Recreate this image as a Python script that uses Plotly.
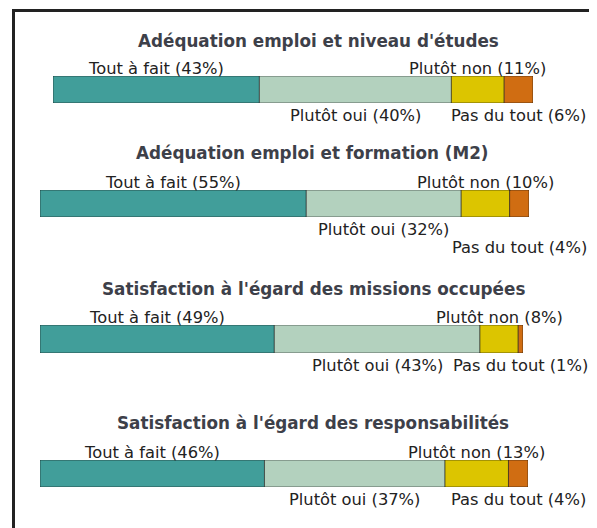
import plotly.graph_objects as go

# ---- data ----
titles = [
    "Adéquation emploi et niveau d'études",
    "Adéquation emploi et formation (M2)",
    "Satisfaction à l'égard des missions occupées",
    "Satisfaction à l'égard des responsabilités",
]
categories = ["Tout à fait", "Plutôt oui", "Plutôt non", "Pas du tout"]
tout_a_fait = [43, 55, 49, 46]
plutot_oui = [40, 32, 43, 37]
plutot_non = [11, 10, 8, 13]
pas_du_tout = [6, 4, 1, 4]
colors = ["#419e9a", "#b3d1be", "#dcc500", "#d06d12"]

series = [tout_a_fait, plutot_oui, plutot_non, pas_du_tout]

# ---- layout (pixels, page coordinates; page body has an 8px margin) ----
W, H = 597, 528
OFF = 8
x_start = [53, 40, 40, 40]
x_end = [533, 529, 523, 528]
bar_top = [76, 190, 325, 460]
bar_bot = [103, 217, 353, 487]
title_x = [318, 312, 313, 313]
title_y = [41, 153, 289, 423]

LABEL_FONT = dict(family="DejaVu Sans, sans-serif", size=16.3, color="#222222")
TITLE_FONT = dict(family="DejaVu Sans, sans-serif", size=16.8, color="#3d4049")


def px(v):
    return (v - OFF) / W


def py(v):
    return 1 - (v - OFF) / H


fig = go.Figure()
annotations = []

for i in range(4):
    ax = "" if i == 0 else str(i + 1)
    total = sum(s[i] for s in series)
    base = 0
    below_boxes = []
    for k, cat in enumerate(categories):
        v = series[k][i]
        fig.add_trace(go.Bar(
            x=[v], y=[0], base=[base], orientation="h", width=1,
            marker=dict(color=colors[k], line=dict(color="rgba(20,20,20,0.55)", width=1)),
            xaxis="x" + ax, yaxis="y" + ax, showlegend=False, hoverinfo="skip",
        ))
        center = base + v / 2
        text = f"{cat} ({v}%)"
        if k in (0, 2):
            yshift = 8
            yv = 0.5
        else:
            # simple collision avoidance for labels below the bar
            px_per = (x_end[i] - x_start[i]) / total
            cx = x_start[i] + center * px_per
            wlab = len(text) * 8.5
            box = (cx - wlab / 2, cx + wlab / 2)
            row = 0
            for (b0, b1, r) in below_boxes:
                if box[0] < b1 and box[1] > b0 and r == row:
                    row += 1
            below_boxes.append((box[0], box[1], row))
            yshift = -(12.5 + 18 * row)
            yv = -0.5
        annotations.append(dict(
            x=center, y=yv, xref="x" + ax, yref="y" + ax, text=text,
            showarrow=False, font=LABEL_FONT, xanchor="center", yanchor="middle",
            yshift=yshift,
        ))
        base += v

    fig.layout["xaxis" + ax] = dict(
        domain=[px(x_start[i]), px(x_end[i])], range=[0, total],
        visible=False, fixedrange=True, anchor="y" + ax,
    )
    fig.layout["yaxis" + ax] = dict(
        domain=[py(bar_bot[i]), py(bar_top[i])], range=[-0.5, 0.5],
        visible=False, fixedrange=True, anchor="x" + ax,
    )
    annotations.append(dict(
        x=px(title_x[i]), y=py(title_y[i]), xref="paper", yref="paper",
        text=f"<b>{titles[i]}</b>", showarrow=False, font=TITLE_FONT,
        xanchor="center", yanchor="middle",
    ))

shapes = [
    dict(type="line", xref="paper", yref="paper", x0=px(13.5), x1=px(13.5),
         y0=py(9), y1=-0.05, line=dict(color="#222222", width=3)),
    dict(type="line", xref="paper", yref="paper", x0=px(12), x1=1.05,
         y0=py(10.5), y1=py(10.5), line=dict(color="#222222", width=3)),
]

fig.update_layout(
    width=W, height=H, margin=dict(l=0, r=0, t=0, b=0),
    paper_bgcolor="white", plot_bgcolor="white",
    barmode="overlay", annotations=annotations, shapes=shapes,
    showlegend=False,
)

fig.write_html("out.html")
